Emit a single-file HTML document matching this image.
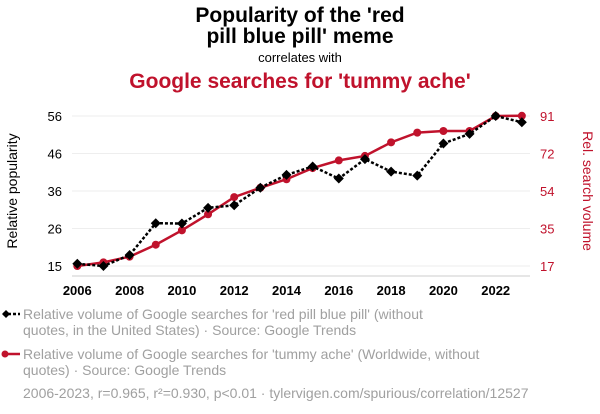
<!DOCTYPE html>
<html><head><meta charset="utf-8"><style>
body{margin:0;width:600px;height:414px;background:#fff;font-family:"Liberation Sans",sans-serif;overflow:hidden}
svg{display:block}
</style></head><body>
<svg width="600" height="414">
<text x="300" y="22" text-anchor="middle" font-size="21" font-weight="bold" fill="#000">Popularity of the 'red</text>
<text x="300" y="43" text-anchor="middle" font-size="21" font-weight="bold" fill="#000">pill blue pill' meme</text>
<text x="300" y="62" text-anchor="middle" font-size="13" fill="#000">correlates with</text>
<text x="300" y="88" text-anchor="middle" font-size="21" font-weight="bold" fill="#c0122c">Google searches for 'tummy ache'</text>
<g id="grid"></g>
<line x1="72" y1="276" x2="530" y2="276" stroke="#ccc"/>
<g id="axes"></g>
<g id="marks"></g>
<text transform="translate(17,191) rotate(-90)" text-anchor="middle" font-size="14" fill="#000">Relative popularity</text>
<text transform="translate(583,191) rotate(90)" text-anchor="middle" font-size="14" fill="#c0122c">Rel. search volume</text>
<g>
<line x1="3" y1="314" x2="20" y2="314" stroke="#000" stroke-width="2.5" stroke-dasharray="3,2"/>
<path d="M2,314 L6,310 L10,314 L6,318Z" fill="#000"/>
<text x="23" y="319" font-size="14" fill="#a0a0a0">Relative volume of Google searches for 'red pill blue pill' (without</text>
<text x="23" y="335" font-size="14" fill="#a0a0a0">quotes, in the United States) · Source: Google Trends</text>
</g>
<g>
<line x1="3" y1="354" x2="20" y2="354" stroke="#c0122c" stroke-width="2.5"/>
<circle cx="5" cy="354" r="3.5" fill="#c0122c"/>
<text x="23" y="359" font-size="14" fill="#a0a0a0">Relative volume of Google searches for 'tummy ache' (Worldwide, without</text>
<text x="23" y="375" font-size="14" fill="#a0a0a0">quotes) · Source: Google Trends</text>
</g>
<text x="23" y="398" font-size="14" fill="#a0a0a0">2006-2023, r=0.965, r²=0.930, p&lt;0.01 · tylervigen.com/spurious/correlation/12527</text>
</svg>
<script>
const years=[2006,2007,2008,2009,2010,2011,2012,2013,2014,2015,2016,2017,2018,2019,2020,2021,2022,2023];
const memeValues=[15.6,15,18,26.7,26.6,30.9,31.6,36.4,39.9,42.2,38.9,44.2,40.8,39.7,48.5,51.1,56,54.3];
const tummyValues=[17,18.8,21.6,27.5,34.6,42.5,51,55.6,59.8,65.3,69.1,71.3,78,82.8,83.6,83.6,91,91.1];
const leftTickValues=[15,25.25,35.5,45.75,56];
const leftTickLabels=['15','26','36','46','56'];
const rightTickValues=[17,35.5,54,72.5,91];
const rightTickLabels=['17','35','54','72','91'];
const xTicks=[2006,2008,2010,2012,2014,2016,2018,2020,2022];
const NS="http://www.w3.org/2000/svg";
const x=v=>77.3+(v-2006)*26.15;
const yL=v=>266-(v-15)*150/41;
const yR=v=>266-(v-17)*150/74;
function mk(tag,attrs,parent,text){const e=document.createElementNS(NS,tag);for(const k in attrs)e.setAttribute(k,attrs[k]);if(text!==undefined)e.textContent=text;document.getElementById(parent).appendChild(e);return e;}
leftTickValues.forEach((t,i)=>{
 const g=mk('line',{x1:72,x2:530,y1:yL(t),y2:yL(t),stroke:'#eee'},'grid');
 
 
 const l=mk('text',{x:62,y:yL(t)+5,'text-anchor':'end','font-size':13,fill:'#000'},'axes',leftTickLabels[i]);
 
 
});
rightTickValues.forEach((t,i)=>{
 const l=mk('text',{x:540,y:yR(t)+5,'font-size':13,fill:'#c0122c'},'axes',rightTickLabels[i]);
 
 
});
xTicks.forEach(t=>{
 const l=mk('text',{x:x(t),y:295,'text-anchor':'middle','font-size':13,'font-weight':'bold',fill:'#000'},'axes',t);
 
 
});
const rl=mk('polyline',{points:years.map((yr,i)=>x(yr)+','+yR(tummyValues[i])).join(' '),fill:'none',stroke:'#c0122c','stroke-width':2.5},'marks');


years.forEach((yr,i)=>{
 const c=mk('circle',{cx:x(yr),cy:yR(tummyValues[i]),r:4,fill:'#c0122c'},'marks');
 
 
});
const bl=mk('polyline',{points:years.map((yr,i)=>x(yr)+','+yL(memeValues[i])).join(' '),fill:'none',stroke:'#000','stroke-width':2.5,'stroke-dasharray':'3,2'},'marks');


years.forEach((yr,i)=>{
 const cx=x(yr),cy=yL(memeValues[i]);
 const p=mk('path',{d:`M${cx-5},${cy} L${cx},${cy-5} L${cx+5},${cy} L${cx},${cy+5}Z`,fill:'#000'},'marks');
 
 
});
</script>
</body></html>
